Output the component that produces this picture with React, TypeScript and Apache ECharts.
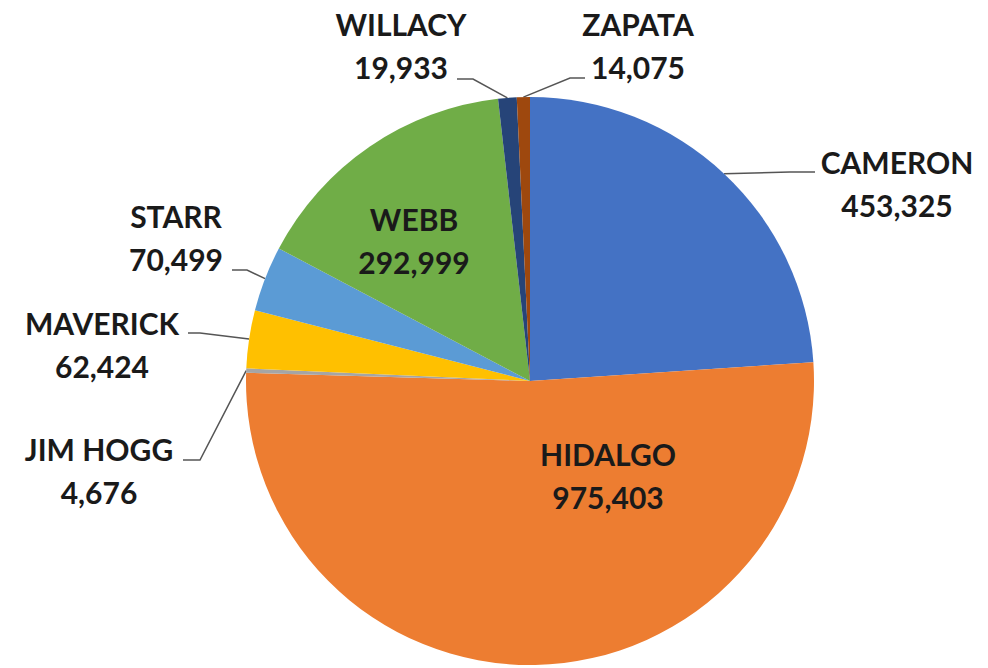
import React, { useEffect, useRef } from 'react';
import * as echarts from 'echarts';

const counties = ['CAMERON', 'HIDALGO', 'JIM HOGG', 'MAVERICK', 'STARR', 'WEBB', 'WILLACY', 'ZAPATA'];
const population = [453325, 975403, 4676, 62424, 70499, 292999, 19933, 14075];
const sliceColors = ['#4472C4', '#ED7D31', '#A5A5A5', '#FFC000', '#5B9BD5', '#70AD47', '#264478', '#9E480E'];

// Label placement (layout only)
const labelSpots: { x: number; y: number; elbow?: number[]; end?: number[] }[] = [
  { x: 897, y: 183, elbow: [790, 172], end: [815, 172] },
  { x: 608, y: 475 },
  { x: 99, y: 470, elbow: [200, 460], end: [183, 460] },
  { x: 102, y: 344, elbow: [200, 333], end: [188, 333] },
  { x: 176, y: 237, elbow: [247, 270], end: [232, 270] },
  { x: 414, y: 240 },
  { x: 401, y: 45, elbow: [473, 79], end: [457, 79] },
  { x: 638, y: 45, elbow: [570, 78], end: [585, 78] },
];

const CX = 530;
const CY = 381;
const R = 284;

export default function App() {
  const ref = useRef<HTMLDivElement>(null);
  useEffect(() => {
    if (!ref.current) return;
    const chart = echarts.init(ref.current, undefined, { renderer: 'svg' });
    const total = population.reduce((a, b) => a + b, 0);
    let acc = 0;
    const anchors = population.map((v) => {
      const mid = ((acc + v / 2) / total) * 2 * Math.PI;
      acc += v;
      return [CX + R * Math.sin(mid), CY - R * Math.cos(mid)];
    });
    chart.setOption({
      animation: false,
      backgroundColor: '#ffffff',
      series: [
        {
          type: 'pie',
          center: [CX, CY],
          radius: R,
          startAngle: 90,
          clockwise: true,
          avoidLabelOverlap: false,
          emphasis: { disabled: true },
          itemStyle: { borderWidth: 0 },
          data: counties.map((name, i) => ({
            name,
            value: population[i],
            itemStyle: { color: sliceColors[i] },
            labelLine: { show: !!labelSpots[i].end },
          })),
          label: {
            show: true,
            position: 'outside',
            formatter: (p: any) => `${p.name}\n${Number(p.value).toLocaleString('en-US')}`,
            fontFamily: 'Lato',
            fontWeight: 'bold',
            fontSize: 30,
            lineHeight: 43,
            color: '#1a1a1a',
            align: 'center',
          },
          labelLine: {
            show: true,
            length: 10,
            length2: 10,
            lineStyle: { color: '#555555', width: 1.5 },
          },
          labelLayout: (params: any) => {
            const i = params.dataIndex;
            const s = labelSpots[i];
            const out: any = { x: s.x, y: s.y, align: 'center', verticalAlign: 'middle' };
            if (s.end && s.elbow) {
              out.labelLinePoints = [anchors[i], s.elbow, s.end];
            }
            return out;
          },
        },
      ],
    });
    return () => chart.dispose();
  }, []);
  return (
    <div
      ref={ref}
      style={{ position: 'absolute', left: 0, top: 0, width: 988, height: 668, background: '#fff' }}
    />
  );
}
